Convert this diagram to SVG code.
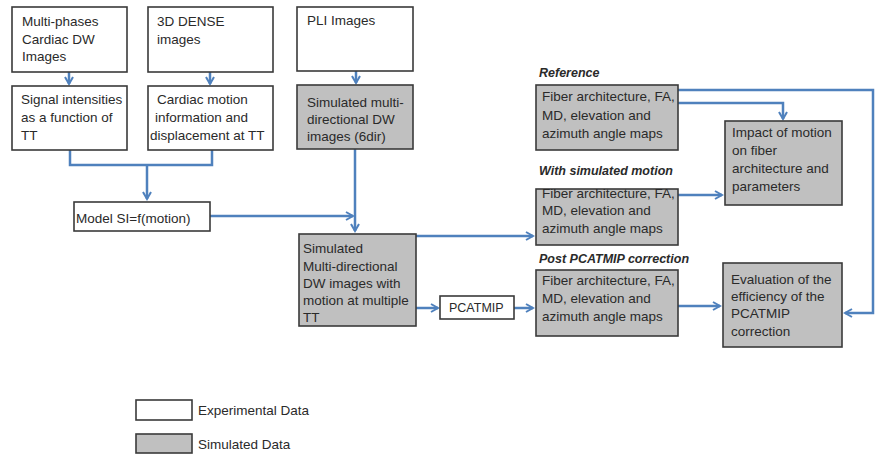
<svg xmlns="http://www.w3.org/2000/svg" width="880" height="455" viewBox="0 0 880 455">
<style>
.exp{fill:#ffffff;stroke:#3a3a3a;stroke-width:1.6}
.sim{fill:#c0c0c0;stroke:#3a3a3a;stroke-width:1.6}
text{font-family:"Liberation Sans",Arial,sans-serif;font-size:13.5px;fill:#2a2a2a}
.lbl{font-weight:bold;font-style:italic;font-size:12.5px}
.sm{font-size:12.5px}
.c{fill:none;stroke:#4f81bd;stroke-width:2.5}
</style>
<defs>
<marker id="ah" viewBox="0 0 10 10" refX="8" refY="5" markerWidth="4" markerHeight="4" orient="auto" markerUnits="strokeWidth">
<path d="M1,1 L8,5 L1,9" fill="none" stroke="#4f81bd" stroke-width="2"/>
</marker>
</defs>
<rect width="880" height="455" fill="#ffffff"/>
<g id="connectors">
<path class="c" d="M69,72 V84" marker-end="url(#ah)"/>
<path class="c" d="M210,72 V84" marker-end="url(#ah)"/>
<path class="c" d="M356,71 V83" marker-end="url(#ah)"/>
<path class="c" d="M70,150 V165 H212 V150"/>
<path class="c" d="M147,165 V199" marker-end="url(#ah)"/>
<path class="c" d="M355,149 V231" marker-end="url(#ah)"/>
<path class="c" d="M210,216 H353" marker-end="url(#ah)"/>
<path class="c" d="M416,236 H533" marker-end="url(#ah)"/>
<path class="c" d="M416,308 H438" marker-end="url(#ah)"/>
<path class="c" d="M514,308 H533" marker-end="url(#ah)"/>
<path class="c" d="M678,90 H873 V313 H845" marker-end="url(#ah)"/>
<path class="c" d="M678,103 H783 V119" marker-end="url(#ah)"/>
<path class="c" d="M678,195 H722" marker-end="url(#ah)"/>
<path class="c" d="M678,306 H720" marker-end="url(#ah)"/>
</g>
<g id="n-multiphase"><rect class="exp" x="12" y="7" width="115" height="65"/>
<text x="22" y="26">Multi-phases</text><text x="22" y="44">Cardiac DW</text><text x="22" y="61">Images</text></g>
<g id="n-dense"><rect class="exp" x="148" y="7" width="125" height="65"/>
<text x="157" y="26">3D DENSE</text><text x="157" y="44">images</text></g>
<g id="n-pli"><rect class="exp" x="297" y="7" width="116" height="64"/>
<text x="307" y="25">PLI Images</text></g>
<g id="n-signal"><rect class="exp" x="12" y="86" width="115" height="64"/>
<text x="21" y="104">Signal intensities</text><text x="21" y="122">as a function of</text><text x="21" y="140">TT</text></g>
<g id="n-motion"><rect class="exp" x="148" y="86" width="125" height="64"/>
<text x="157" y="104">Cardiac motion</text><text x="155" y="122">information and</text><text x="150" y="140">displacement at TT</text></g>
<g id="n-simdw"><rect class="sim" x="297" y="85" width="116" height="64"/>
<text x="307" y="107">Simulated multi-</text><text x="307" y="124">directional DW</text><text x="307" y="141">images (6dir)</text></g>
<g id="n-model"><rect class="exp" x="74" y="202" width="136" height="29"/>
<text x="76" y="223">Model SI=f(motion)</text></g>
<g id="n-simmotion"><rect class="sim" x="299" y="234" width="117" height="92"/>
<text x="303" y="253">Simulated</text><text x="303" y="271">Multi-directional</text><text x="303" y="288">DW images with</text><text x="303" y="305">motion at multiple</text><text x="303" y="322">TT</text></g>
<g id="n-pcatmip"><rect class="exp" x="440" y="296" width="74" height="23"/>
<text class="sm" x="449" y="312">PCATMIP</text></g>
<g id="n-ref"><text class="lbl" x="539" y="77">Reference</text>
<rect class="sim" x="536" y="85" width="142" height="65"/>
<text x="542" y="101">Fiber architecture, FA,</text><text x="542" y="120">MD, elevation and</text><text x="542" y="138">azimuth angle maps</text></g>
<g id="n-withmotion"><text class="lbl" x="539" y="175">With simulated motion</text>
<rect class="sim" x="536" y="189" width="142" height="56"/>
<text x="542" y="198">Fiber architecture, FA,</text><text x="542" y="215">MD, elevation and</text><text x="542" y="233">azimuth angle maps</text></g>
<g id="n-post"><text class="lbl" x="539" y="263">Post PCATMIP correction</text>
<rect class="sim" x="536" y="270" width="142" height="66"/>
<text x="542" y="285">Fiber architecture, FA,</text><text x="542" y="303">MD, elevation and</text><text x="542" y="321">azimuth angle maps</text></g>
<g id="n-impact"><rect class="sim" x="725" y="121" width="117" height="84"/>
<text x="732" y="137">Impact of motion</text><text x="732" y="155">on fiber</text><text x="732" y="173">architecture and</text><text x="732" y="191">parameters</text></g>
<g id="n-eval"><rect class="sim" x="723" y="263" width="119" height="84"/>
<text x="731" y="284">Evaluation of the</text><text x="731" y="301">efficiency of the</text><text x="731" y="318">PCATMIP</text><text x="731" y="336">correction</text></g>
<g id="legend">
<rect class="exp" x="136" y="400" width="56" height="20"/><text x="198" y="415">Experimental Data</text>
<rect class="sim" x="136" y="434" width="56" height="19"/><text x="198" y="449">Simulated Data</text>
</g>
</svg>
